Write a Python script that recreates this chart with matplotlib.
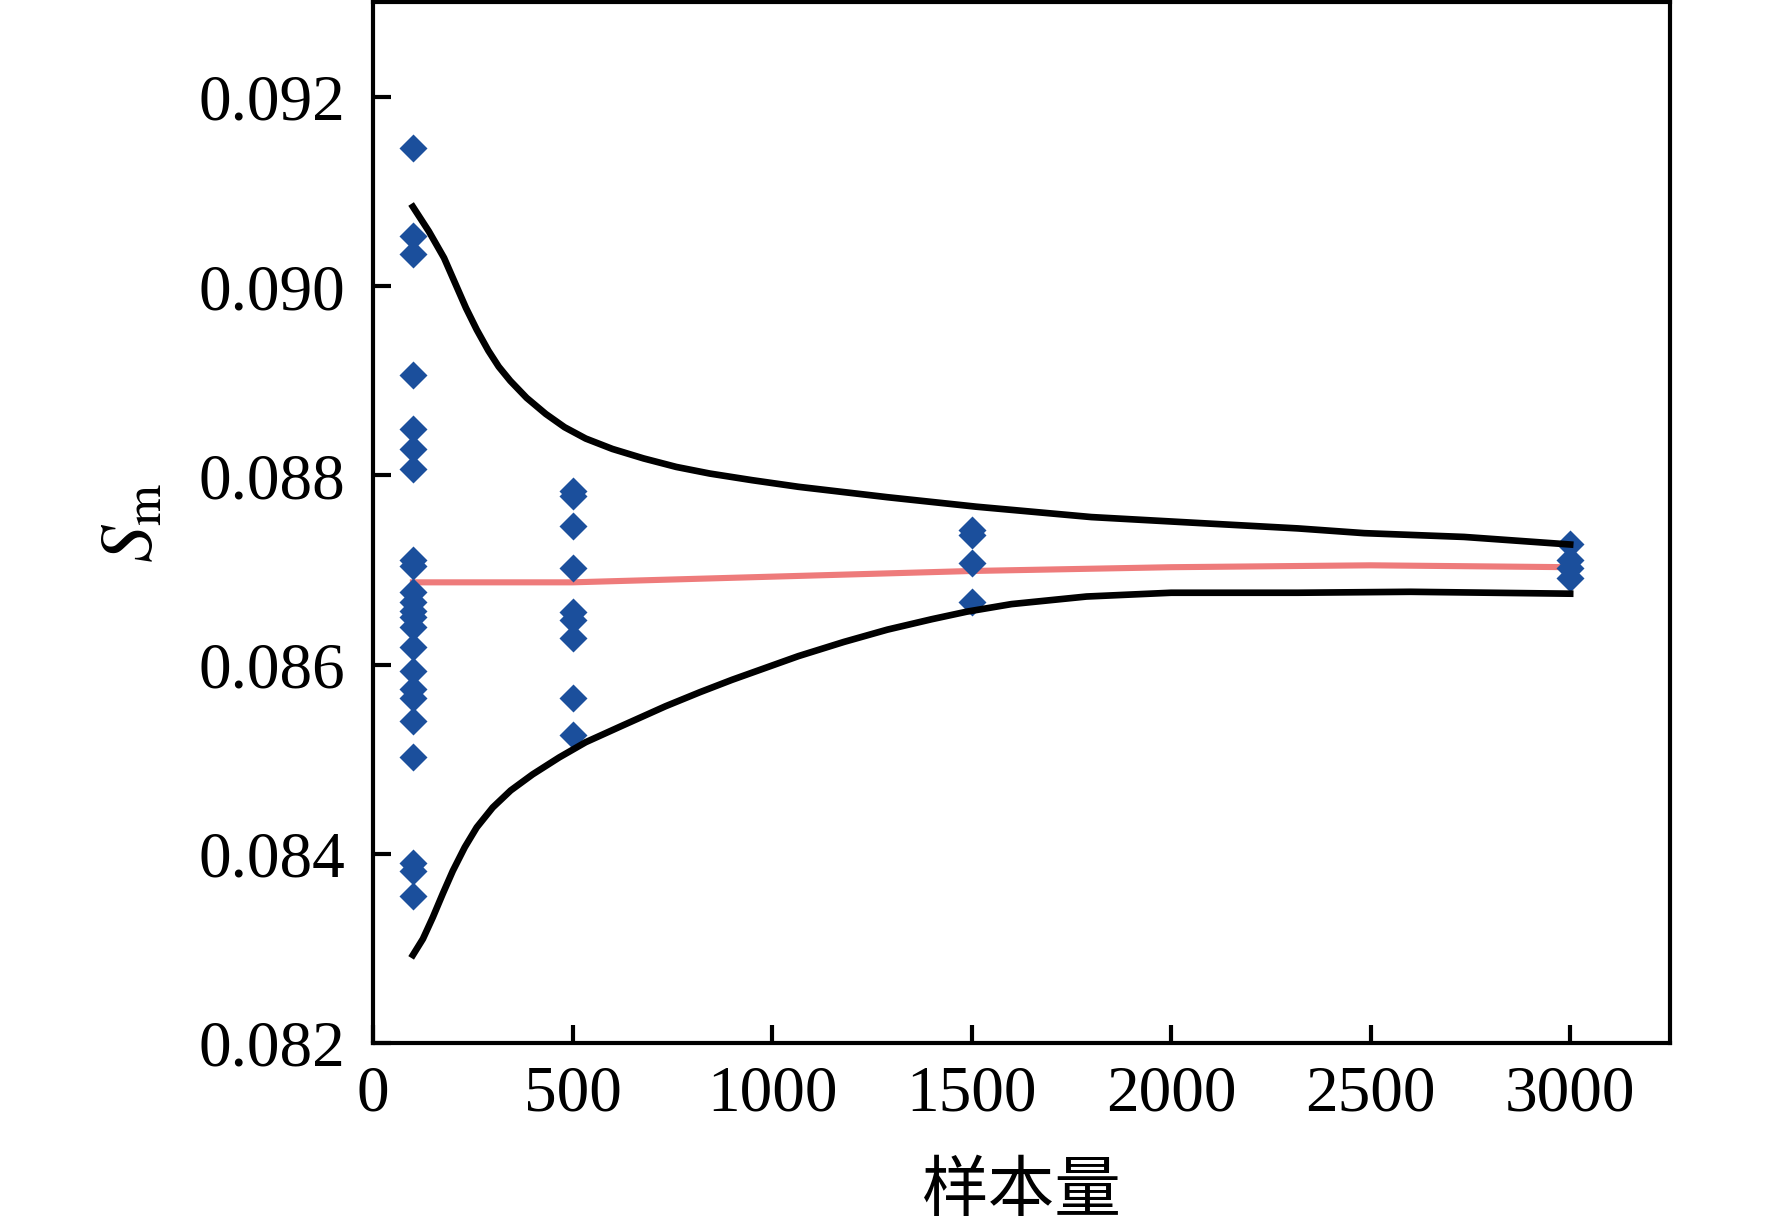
import numpy as np
import matplotlib
matplotlib.use("Agg")
import matplotlib.pyplot as plt

plt.rcParams['font.family'] = ['Liberation Serif', 'Noto Sans CJK SC']
plt.rcParams['mathtext.fontset'] = 'stix'

# sample values, per sample size
x_100 = 100
s_100 = [0.09146, 0.09053, 0.09034, 0.08906, 0.08849, 0.08828, 0.08807,
         0.08711, 0.08704, 0.08677, 0.08666, 0.08657, 0.08650, 0.08640,
         0.08619, 0.08593, 0.08574, 0.08565, 0.08540, 0.08502,
         0.08390, 0.08382, 0.08355]
x_500 = 500
s_500 = [0.08784, 0.08778, 0.08747, 0.08702, 0.08656, 0.08647, 0.08628,
         0.08565, 0.08526]
x_1500 = 1500
s_1500 = [0.08742, 0.08737, 0.08707, 0.08666]
x_3000 = 3000
s_3000 = [0.08728, 0.08711, 0.08702, 0.08692]

# envelope curves
upper_x = [100, 140, 178, 205, 233, 260, 289, 315, 344, 385, 433, 480, 533,
           600, 678, 760, 844, 950, 1066, 1289, 1511, 1800, 2100, 2318, 2484,
           2734, 3000]
upper_y = [0.09084, 0.09058, 0.09030, 0.09004, 0.08977, 0.08954, 0.08932,
           0.08915, 0.08900, 0.08882, 0.08865, 0.08851, 0.08839, 0.08828,
           0.08818, 0.08809, 0.08802, 0.08795, 0.08788, 0.08777, 0.08767,
           0.08756, 0.08749, 0.08744, 0.08739, 0.08735, 0.08727]
lower_x = [100, 125, 150, 175, 200, 230, 260, 300, 345, 400, 467, 533, 622,
           733, 820, 900, 1066, 1180, 1289, 1400, 1488, 1600, 1788, 2000, 2318,
           2600, 3000]
lower_y = [0.08293, 0.08310, 0.08333, 0.08358, 0.08382, 0.08407, 0.08428,
           0.08449, 0.08467, 0.08484, 0.08502, 0.08518, 0.08535, 0.08556,
           0.08571, 0.08584, 0.08609, 0.08624, 0.08637, 0.08648, 0.08656,
           0.08664, 0.08672, 0.08676, 0.08676, 0.08677, 0.08675]

# mean line
mean_x = [100, 500, 1000, 1500, 2000, 2500, 3000]
mean_y = [0.08687, 0.08687, 0.08693, 0.08699, 0.08703, 0.08705, 0.08703]

xticks = [0, 500, 1000, 1500, 2000, 2500, 3000]
yticks = [0.082, 0.084, 0.086, 0.088, 0.090, 0.092]

fig = plt.figure(figsize=(8.86, 6.155), dpi=200)
ax = fig.add_axes([0.2105, 0.1527, 0.7319, 0.8453])

blue = '#1B4F9C'
ax.plot(mean_x, mean_y, color='#EE7B7B', lw=2.2, zorder=2)
for xv, sv in [(x_100, s_100), (x_500, s_500), (x_1500, s_1500), (x_3000, s_3000)]:
    ax.plot([xv] * len(sv), sv, 'D', color=blue, ms=7.2, mec='none', zorder=3)
ax.plot(upper_x, upper_y, color='black', lw=2.4, zorder=4)
ax.plot(lower_x, lower_y, color='black', lw=2.4, zorder=4)

ax.set_xlim(0, 3250)
ax.set_ylim(0.082, 0.093)
ax.set_xticks(xticks)
ax.set_yticks(yticks)
ax.set_yticklabels(['%.3f' % v for v in yticks])

ax.tick_params(direction='in', length=6.4, width=1.5, labelsize=23.5)
ax.tick_params(axis='y', pad=10)
ax.tick_params(axis='x', pad=8)
for sp in ax.spines.values():
    sp.set_linewidth(1.5)

ax.set_ylabel(r'$S_{\mathrm{m}}$', fontsize=27)
ax.yaxis.set_label_coords(-0.158, 0.5)
ax.set_xlabel('样本量', fontsize=24, family=['Noto Sans CJK SC'], labelpad=12)

fig.savefig('out.png', dpi=200)
